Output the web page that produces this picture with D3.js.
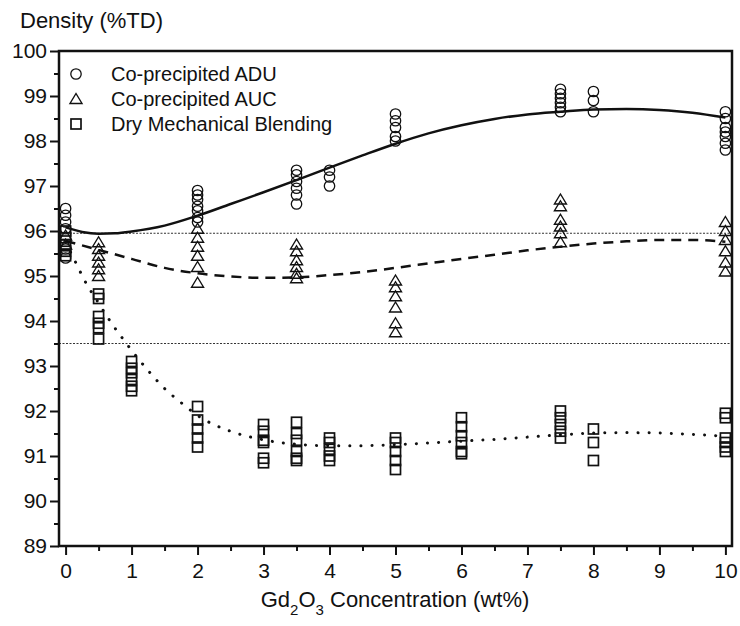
<!DOCTYPE html>
<html>
<head>
<meta charset="utf-8">
<script src="https://cdn.jsdelivr.net/npm/d3@7/dist/d3.min.js"></script>
<style>
  html, body { margin: 0; padding: 0; background: #fff; }
  svg { display: block; font-family: "Liberation Sans", Arial, sans-serif; }
</style>
</head>
<body>
<svg id="chart" width="740" height="626"></svg>
<script>
// Sintered density (%TD) against Gd2O3 content, three powder routes
const xTicks = [0, 1, 2, 3, 4, 5, 6, 7, 8, 9, 10];
const yTicks = [89, 90, 91, 92, 93, 94, 95, 96, 97, 98, 99, 100];
const refLines = [95.95, 93.5];

// Measured pellets: [wt% Gd2O3, [densities]]
const aduData = [
  [0,   [96.5, 96.35, 96.2, 96.05, 95.6, 95.4]],
  [2,   [96.9, 96.8, 96.7, 96.55, 96.45, 96.3, 96.2]],
  [3.5, [97.35, 97.25, 97.1, 96.95, 96.8, 96.6]],
  [4,   [97.35, 97.2, 97.0]],
  [5,   [98.6, 98.45, 98.3, 98.1, 98.0]],
  [7.5, [99.15, 99.05, 98.95, 98.85, 98.75, 98.65]],
  [8,   [99.1, 98.9, 98.65]],
  [10,  [98.65, 98.5, 98.3, 98.2, 98.1, 97.95, 97.8]]
];
const aucData = [
  [0,   [95.9, 95.7]],
  [0.5, [95.75, 95.6, 95.45, 95.3, 95.15, 95.0]],
  [2,   [96.05, 95.85, 95.65, 95.45, 95.2, 94.85]],
  [3.5, [95.7, 95.55, 95.35, 95.2, 95.05, 94.95]],
  [5,   [94.9, 94.75, 94.55, 94.3, 93.95, 93.75]],
  [7.5, [96.7, 96.55, 96.25, 96.1, 95.95, 95.75]],
  [10,  [96.2, 96.0, 95.8, 95.55, 95.3, 95.1]]
];
const dmbData = [
  [0,   [96.0, 95.85, 95.7, 95.55, 95.45]],
  [0.5, [94.6, 94.5, 94.1, 93.95, 93.85, 93.6]],
  [1,   [93.1, 92.95, 92.85, 92.7, 92.55, 92.45]],
  [2,   [92.1, 91.8, 91.6, 91.4, 91.2]],
  [3,   [91.7, 91.55, 91.35, 91.3, 90.95, 90.85]],
  [3.5, [91.75, 91.5, 91.35, 91.1, 90.95, 90.9]],
  [4,   [91.4, 91.3, 91.15, 91.0, 90.9]],
  [5,   [91.4, 91.3, 91.1, 90.9, 90.7]],
  [6,   [91.85, 91.65, 91.45, 91.3, 91.1, 91.05]],
  [7.5, [92.0, 91.85, 91.7, 91.55, 91.4]],
  [8,   [91.6, 91.3, 90.9]],
  [10,  [91.95, 91.85, 91.4, 91.3, 91.2, 91.1]]
];

// Trend curves: [wt%, density]
const aduFit = [[0, 96.08], [0.25, 95.98], [0.5, 95.94], [0.75, 95.95], [1, 95.99], [1.5, 96.12],
  [2, 96.34], [2.5, 96.6], [3, 96.86], [3.5, 97.13], [4, 97.41], [4.5, 97.68], [5, 97.94],
  [5.5, 98.17], [6, 98.35], [6.5, 98.49], [7, 98.59], [7.5, 98.65], [8, 98.7], [8.5, 98.71],
  [9, 98.69], [9.5, 98.63], [10, 98.52]];
const aucFit = [[0, 95.78], [0.5, 95.58], [1, 95.38], [1.5, 95.18], [2, 95.06], [2.5, 94.99],
  [3, 94.96], [3.5, 94.97], [4, 95.02], [4.5, 95.09], [5, 95.18], [5.5, 95.28], [6, 95.38],
  [6.5, 95.47], [7, 95.57], [7.5, 95.65], [8, 95.72], [8.5, 95.77], [9, 95.8], [9.5, 95.8], [10, 95.76]];
const dmbFit = [[0, 95.75], [0.17, 95.25], [0.27, 94.95], [0.5, 94.4], [0.72, 93.9], [0.85, 93.64],
  [1, 93.35], [1.25, 92.9], [1.5, 92.5], [1.78, 92.15], [2, 91.9], [2.5, 91.55], [3, 91.36],
  [3.5, 91.26], [4, 91.23], [4.5, 91.23], [5, 91.25], [5.5, 91.29], [6, 91.33], [6.5, 91.37],
  [7, 91.42], [7.5, 91.47], [8, 91.51], [8.5, 91.52], [9, 91.51], [9.5, 91.48], [10, 91.44]];

const legendLabels = ["Co-precipited ADU", "Co-precipited AUC", "Dry Mechanical Blending"];

const ink = "#111";
const svg = d3.select("#chart");
const plotL = 59, plotR = 732, plotT = 51, plotB = 546;

const x = d3.scaleLinear().domain([-0.1, 10.1]).range([plotL, plotR]);
const y = d3.scaleLinear().domain([89, 100]).range([plotB, plotT]);

// Marker shapes
const shapes = {
  circle: (g) => g.append("circle").attr("r", 5.2),
  triangle: (g) => g.append("path").attr("d", "M0,-5.5L6,4.5L-6,4.5Z"),
  square: (g) => g.append("rect").attr("x", -5).attr("y", -5).attr("width", 10).attr("height", 10)
};

// Reference lines
svg.append("g").selectAll("line").data(refLines).join("line")
  .attr("x1", plotL).attr("x2", plotR)
  .attr("y1", d => y(d)).attr("y2", d => y(d))
  .attr("stroke", "#333").attr("stroke-width", 1)
  .attr("stroke-dasharray", "2,1.5");

// Trend curves
const line = d3.line().x(d => x(d[0])).y(d => y(d[1])).curve(d3.curveMonotoneX);
svg.append("path").datum(aduFit).attr("d", line)
  .attr("fill", "none").attr("stroke", ink).attr("stroke-width", 2.5);
svg.append("path").datum(aucFit).attr("d", line)
  .attr("fill", "none").attr("stroke", ink).attr("stroke-width", 2.5)
  .attr("stroke-dasharray", "10,7");
svg.append("path").datum(dmbFit).attr("d", line)
  .attr("fill", "none").attr("stroke", ink).attr("stroke-width", 3)
  .attr("stroke-linecap", "round").attr("stroke-dasharray", "0.1,11");

// Data markers
function drawSeries(data, shape, sw) {
  const pts = data.flatMap(([cx, vals]) => vals.map(v => [cx, v]));
  const g = svg.append("g");
  pts.forEach(([cx, v]) => {
    const m = g.append("g").attr("transform", `translate(${x(cx)},${y(v)})`);
    shapes[shape](m).attr("fill", "none").attr("stroke", ink).attr("stroke-width", sw);
  });
}
drawSeries(aduData, "circle", 1.3);
drawSeries(aucData, "triangle", 1.4);
drawSeries(dmbData, "square", 1.7);

// Axes
const yAxis = svg.append("g").attr("transform", `translate(${plotL},0)`)
  .call(d3.axisLeft(y).tickValues(yTicks).tickSize(9).tickPadding(3).tickFormat(d3.format("d")));
const yMinor = svg.append("g").attr("transform", `translate(${plotL},0)`)
  .call(d3.axisLeft(y).tickValues(d3.range(89.5, 100, 1)).tickSize(5).tickFormat(""));
const xAxis = svg.append("g").attr("transform", `translate(0,${plotB})`)
  .call(d3.axisBottom(x).tickValues(xTicks).tickSize(9).tickPadding(8).tickFormat(d3.format("d")));
const xMinor = svg.append("g").attr("transform", `translate(0,${plotB})`)
  .call(d3.axisBottom(x).tickValues(d3.range(0.5, 10, 1)).tickSize(5).tickFormat(""));

[yAxis, yMinor, xAxis, xMinor].forEach(a => {
  a.select(".domain").remove();
  a.selectAll(".tick line").attr("stroke", ink).attr("stroke-width", 2);
  a.selectAll(".tick text").attr("fill", ink).attr("font-size", 21)
    .attr("font-family", "Liberation Sans, Arial, sans-serif");
});

// Frame
svg.append("rect").attr("x", plotL).attr("y", plotT)
  .attr("width", plotR - plotL).attr("height", plotB - plotT)
  .attr("fill", "none").attr("stroke", ink).attr("stroke-width", 2.5);

// Legend
const legendShapes = ["circle", "triangle", "square"];
const legendSw = [1.3, 1.4, 1.7];
legendLabels.forEach((lab, i) => {
  const cy = 74 + i * 25;
  const m = svg.append("g").attr("transform", `translate(76,${cy})`);
  shapes[legendShapes[i]](m).attr("fill", "none").attr("stroke", ink).attr("stroke-width", legendSw[i]);
  svg.append("text").attr("x", 111).attr("y", cy + 7).attr("font-size", 20).attr("fill", ink).text(lab);
});

// Axis titles
svg.append("text").attr("x", 20).attr("y", 28).attr("font-size", 22).attr("fill", ink).text("Density (%TD)");
const xt = svg.append("text").attr("x", 395).attr("y", 607).attr("text-anchor", "middle")
  .attr("font-size", 22).attr("fill", ink);
xt.append("tspan").text("Gd");
xt.append("tspan").attr("font-size", 15).attr("dy", 8).text("2");
xt.append("tspan").attr("dy", -8).text("O");
xt.append("tspan").attr("font-size", 15).attr("dy", 8).text("3");
xt.append("tspan").attr("dy", -8).text(" Concentration (wt%)");
</script>
</body>
</html>
